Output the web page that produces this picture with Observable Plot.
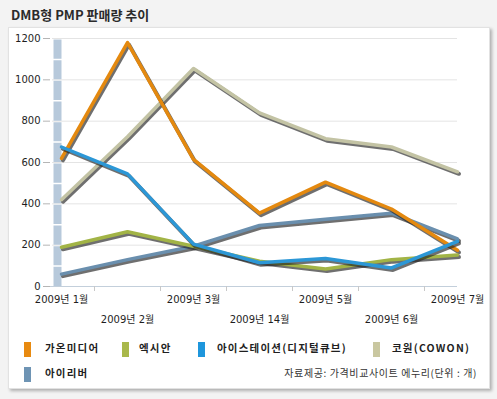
<!DOCTYPE html>
<html>
<head>
<meta charset="utf-8">
<script src="https://cdn.jsdelivr.net/npm/d3@7"></script>
<script src="https://cdn.jsdelivr.net/npm/@observablehq/plot@0.6"></script>
<style>
  body { margin: 0; background: #f3f3f3; }
  #wrap { position: relative; width: 497px; height: 399px; overflow: hidden; font-family: "DejaVu Sans", "Noto Sans CJK KR", sans-serif; }
  #title { position: absolute; left: 11px; top: 5px; font: bold 13px "Noto Sans CJK KR", "DejaVu Sans", sans-serif; color: #2b2b2b; white-space: nowrap; }
  #panel { position: absolute; left: 8px; top: 27px; width: 480px; height: 360px; background: #fff; border: 1px solid #e2e2e2; box-shadow: 2px 2px 3px rgba(0,0,0,0.28); }
  #chart { position: absolute; left: 0; top: 0; }
  .lg { position: absolute; font: bold 10.5px "Noto Sans CJK KR", sans-serif; color: #1f1f1f; letter-spacing: 1.2px; white-space: nowrap; line-height: 14px; }
  .sw { position: absolute; width: 7px; height: 15px; }
  #src { position: absolute; right: 20px; top: 366px; font: 10px "Noto Sans CJK KR", sans-serif; color: #333; letter-spacing: 0.6px; white-space: nowrap; line-height: 14px; }
</style>
</head>
<body>
<div id="wrap">
  <div id="title">DMB형 PMP 판매량 추이</div>
  <div id="panel"></div>
  <div id="chart"></div>
  <div id="legend"></div>
  <div id="src">자료제공: 가격비교사이트 에누리(단위 : 개)</div>
</div>
<script>
const months = ["2009년 1월", "2009년 2월", "2009년 3월", "2009년 14월", "2009년 5월", "2009년 6월", "2009년 7월"];
const seriesNames = ["가온미디어", "엑시안", "아이스테이션(디지털큐브)", "코원(COWON)", "아이리버"];
const gaon     = [620, 1180, 615, 355, 505, 375, 175];
const xian     = [190, 265, 195, 122, 85, 130, 152];
const istation = [675, 545, 205, 115, 135, 90, 218];
const cowon    = [420, 725, 1055, 840, 715, 675, 555];
const iriver   = [60, 130, 195, 295, 325, 355, 230];
const yTicks   = [0, 200, 400, 600, 800, 1000, 1200];
const colors   = ["#e4890f", "#a2b446", "#2c97d6", "#c3c3a4", "#6a8fae"];
const swatchColors = ["#e88a10", "#a9b84b", "#1e96dc", "#c9c7a0", "#6e94b4"];

const valuesList = [gaon, xian, istation, cowon, iriver];
const data = [];
seriesNames.forEach((s, si) => months.forEach((m, i) => data.push({series: s, month: m, value: valuesList[si][i]})));

const W = 497, H = 330, ML = 60, MR = 40, MT = 38, MB = 44;
const pxPer100 = (H - MT - MB) / 12;

const drawOrder = [3, 4, 0, 1, 2];
const lineMarks = [];
for (const si of drawOrder) {
  const d = data.filter(r => r.series === seriesNames[si]);
  lineMarks.push(Plot.line(d, {x: "month", y: "value", stroke: "#222", strokeWidth: 4, strokeOpacity: 0.65, dx: 1.5, dy: 2}));
  lineMarks.push(Plot.line(d, {x: "month", y: "value", stroke: colors[si], strokeWidth: 3.5}));
}

const axisFont = {fontSize: 10, fontFamily: "DejaVu Sans, Noto Sans CJK KR, sans-serif", fill: "#1e1e1e"};

const chart = Plot.plot({
  width: W, height: H,
  marginLeft: ML, marginRight: MR, marginTop: MT, marginBottom: MB,
  style: {background: "transparent", overflow: "visible", fontSize: "10px", color: "#1e1e1e"},
  x: {type: "point", domain: months, padding: 0},
  y: {domain: [0, 1200]},
  marks: [
    Plot.gridY(yTicks.slice(1), {stroke: "#e4e4e4", strokeOpacity: 1, insetLeft: -8}),
    Plot.ruleX([months[0]], {x: d => d, y1: 0, y2: 1200, stroke: "#b7c9db", strokeWidth: 8, dx: -4, strokeDasharray: `${pxPer100 - 1.5} 1.5`}),
    Plot.ruleY([0], {stroke: "#c3cfdb", insetLeft: -17}),
    Plot.axisY(yTicks, {dx: -10, tickSize: 7, tickPadding: 3, stroke: "#b5b5b5", label: null, tickFormat: d => String(d), ...axisFont}),
    Plot.axisX(months.slice(0, 6), {dx: 33, tickSize: 5, stroke: "#c8c8c8", tickFormat: () => "", label: null}),
    Plot.axisX(months.filter((d, i) => i % 2 === 0), {tickSize: 0, tickPadding: 9, label: null, ...axisFont}),
    Plot.axisX(months.filter((d, i) => i % 2 === 1), {tickSize: 0, tickPadding: 29, label: null, ...axisFont}),
    ...lineMarks
  ]
});
document.getElementById("chart").appendChild(chart);

// legend
const legendPos = [
  {sx: 24, tx: 45, y: 342},
  {sx: 122, tx: 139, y: 342},
  {sx: 198, tx: 217, y: 342},
  {sx: 373, tx: 392, y: 342},
  {sx: 24, tx: 45, y: 367}
];
const lg = document.getElementById("legend");
seriesNames.forEach((s, i) => {
  const p = legendPos[i];
  const sw = document.createElement("div");
  sw.className = "sw";
  sw.style.left = p.sx + "px"; sw.style.top = p.y + "px"; sw.style.background = swatchColors[i];
  lg.appendChild(sw);
  const t = document.createElement("div");
  t.className = "lg";
  t.style.left = p.tx + "px"; t.style.top = (p.y - 1) + "px";
  t.textContent = s;
  lg.appendChild(t);
});
</script>
</body>
</html>
